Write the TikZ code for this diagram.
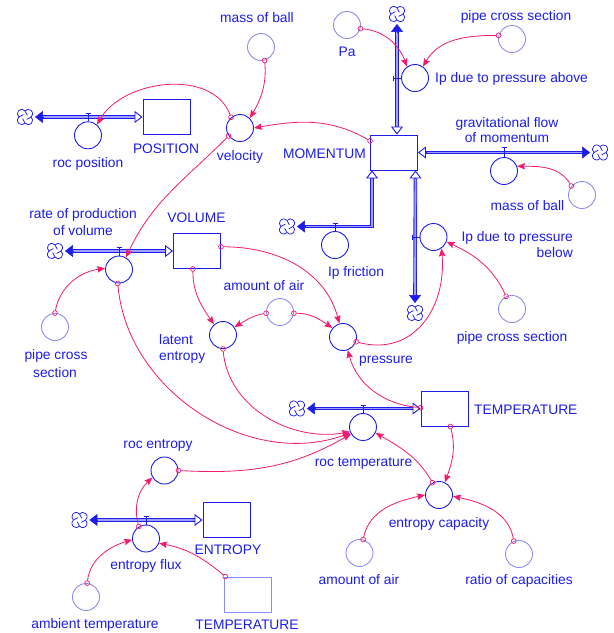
\documentclass[tikz,border=0pt]{standalone}
\usepackage{fontspec}
\setmainfont{Liberation Sans}
\usetikzlibrary{arrows.meta,calc}
\definecolor{vblue}{RGB}{28,28,235}
\definecolor{vlight}{RGB}{140,140,245}
\definecolor{vpink}{RGB}{245,25,110}
\definecolor{vpipe}{RGB}{160,160,250}
\newcommand\vcloud[2]{%
  \node[circle, minimum size=15.5pt, inner sep=0pt, draw=none] (#1) at #2 {};
  \draw[cloudline, shift={(#1.center)}] (0,6.06) arc[start angle=140,end angle=-50,radius=4.3]
     arc[start angle=50,end angle=-140,radius=4.3]
     arc[start angle=-40,end angle=-230,radius=4.3]
     arc[start angle=230,end angle=40,radius=4.3] -- cycle;
  \foreach \r in {0,90,180,270}{
    \draw[cloudline, shift={(#1.center)}, rotate=\r] (0,6.06) .. controls (0,3.8) and (2.6,3.4) .. (2.4,1.6);
  }%
}
\begin{document}
\begin{tikzpicture}[x=1pt,y=1pt,
  stockbox/.style={draw=vblue, line width=0.9pt, minimum width=47pt, minimum height=35pt, inner sep=0pt},
  shadowstock/.style={stockbox, draw=vlight},
  aux/.style={circle, draw=vblue, line width=0.9pt, minimum size=27pt, inner sep=0pt},
  shadowaux/.style={aux, draw=vlight},
  cloudline/.style={draw=vblue, line width=0.75pt, line join=round},
  lbl/.style={text=vblue, font=\fontsize{13.8}{16}\selectfont, inner sep=0pt, anchor=base},
  conn/.style={draw=vpink, line width=0.8pt, arrows={Circle[open,length=5.5pt,width=5.5pt,line width=0.7pt]-Stealth[length=8pt,width=6.5pt,inset=1.3pt]}, shorten <=-2.75pt},
  pipe/.style={draw=vblue, line width=0.9pt, double=vpipe, double distance=1.8pt},
  fhead/.style={draw=vblue, line width=0.5pt, arrows={-Triangle[length=8pt,width=12pt]}},
  ohead/.style={draw=vblue, line width=0.9pt, arrows={-Triangle[length=8pt,width=12pt,fill=white]}},
  tick/.style={draw=vblue, line width=0.8pt},
]
\useasboundingbox (0,0) rectangle (614,-633);

% stocks
\node[stockbox] (POS) at (166.5,-117) {};
\node[stockbox] (MOM) at (394,-152.5) {};
\node[stockbox] (VOL) at (197,-251) {};
\node[stockbox] (TEMP) at (444.5,-408.5) {};
\node[stockbox] (ENT) at (226.5,-520) {};
\node[shadowstock] (TEMPs) at (247.5,-594.5) {};

% auxiliaries and valves
\node[shadowaux] (mb1) at (261,-47) {};
\node[aux] (vel) at (240,-128) {};
\node[aux] (rocpos) at (88,-135.3) {};
\node[shadowaux] (Pa) at (347,-25) {};
\node[aux] (ipa) at (415,-78) {};
\node[shadowaux] (pcs1) at (512,-39) {};
\node[aux] (grav) at (504,-171) {};
\node[shadowaux] (mb2) at (582,-195) {};
\node[aux] (ipf) at (335,-245) {};
\node[aux] (ipb) at (433.5,-237) {};
\node[shadowaux] (pcs2) at (512,-309) {};
\node[aux] (rpv) at (119,-269.5) {};
\node[shadowaux] (pcs3) at (55,-327) {};
\node[aux] (lat) at (223,-335) {};
\node[shadowaux] (aa1) at (280,-312) {};
\node[aux] (pres) at (343,-337) {};
\node[aux] (roct) at (363,-427) {};
\node[aux] (ecap) at (439,-495) {};
\node[shadowaux] (aa2) at (359.5,-553) {};
\node[shadowaux] (ratio) at (519,-554) {};
\node[aux] (roce) at (164.5,-470.5) {};
\node[aux] (eflux) at (146,-538.5) {};
\node[shadowaux] (amb) at (86,-597) {};

% clouds
\vcloud{c1}{(25,-117)}
\vcloud{c2}{(397,-14)}
\vcloud{c3}{(600,-152.5)}
\vcloud{c4}{(287,-226.5)}
\vcloud{c5}{(415,-313)}
\vcloud{c6}{(55,-251)}
\vcloud{c7}{(297,-408.5)}
\vcloud{c8}{(79.5,-520)}

% labels
\node[lbl] (lmb1) at (257,-22) {mass of ball};
\node[lbl] (lvel) at (240,-160) {velocity};
\node[lbl] (lrocpos) at (88,-167) {roc position};
\node[lbl] (lPOS) at (166,-153) {POSITION};
\node[lbl, anchor=base east] (lMOM) at (366,-158) {MOMENTUM};
\node[lbl] (lPa) at (347,-56) {Pa};
\node[lbl] (lpcs1) at (516,-20) {pipe cross section};
\node[lbl, anchor=base west] (lipa) at (435,-82) {Ip due to pressure above};
\node[lbl] (lgrav1) at (507,-127) {gravitational flow};
\node[lbl] (lgrav2) at (507,-142.5) {of momentum};
\node[lbl] (lmb2) at (527.5,-210) {mass of ball};
\node[lbl] (lipf) at (356,-276.5) {Ip friction};
\node[lbl, anchor=base east] (lipb1) at (573,-241.5) {Ip due to pressure};
\node[lbl, anchor=base east] (lipb2) at (573,-257) {below};
\node[lbl] (lpcs2) at (512,-341) {pipe cross section};
\node[lbl] (lrpv1) at (83,-218) {rate of production};
\node[lbl] (lrpv2) at (83,-235) {of volume};
\node[lbl] (lVOL) at (196.5,-222) {VOLUME};
\node[lbl] (laa1) at (264,-290) {amount of air};
\node[lbl] (lpcs3a) at (56,-359.5) {pipe cross};
\node[lbl] (lpcs3b) at (55,-377) {section};
\node[lbl, anchor=base west] (llat1) at (159,-344) {latent};
\node[lbl, anchor=base west] (llat2) at (159,-360) {entropy};
\node[lbl] (lpres) at (386,-363) {pressure};
\node[lbl, anchor=base west] (lTEMP) at (474,-414) {TEMPERATURE};
\node[lbl] (lroct) at (363.5,-466) {roc temperature};
\node[lbl] (lecap) at (439,-527) {entropy capacity};
\node[lbl] (laa2) at (359,-584) {amount of air};
\node[lbl] (lratio) at (519,-584) {ratio of capacities};
\node[lbl] (lroce) at (158,-448) {roc entropy};
\node[lbl] (lENT) at (228,-554) {ENTROPY};
\node[lbl] (leflux) at (146,-569) {entropy flux};
\node[lbl] (lamb) at (95,-628.5) {ambient temperature};
\node[lbl] (lTEMPs) at (247,-629) {TEMPERATURE};

% flow pipes
% roc position
\draw[pipe] ($(c1.east)+(9,0)$) -- ($(POS.west)+(-7,0)$);
\draw[fhead] ($(c1.east)+(10,0)$) -- ($(c1.east)+(2,0)$);
\draw[ohead] ($(POS.west)+(-8,0)$) -- (POS.west);
\draw[tick] (rocpos.north) -- ++(0,7.5) ++(-2.5,0) -- ++(5,0);
% Ip due to pressure above
\draw[pipe] ($(c2.south)+(0,-9)$) -- ($(c2.south |- MOM.north)+(0,7)$);
\draw[fhead] ($(c2.south)+(0,-10)$) -- ($(c2.south)+(0,-2)$);
\draw[ohead] ($(c2.south |- MOM.north)+(0,8)$) -- (c2.south |- MOM.north);
\draw[tick] (ipa.west) -- ++(-7.5,0) ++(0,2.5) -- ++(0,-5);
% gravitational flow
\draw[pipe] ($(MOM.east)+(7,0)$) -- ($(c3.west)+(-9,0)$);
\draw[ohead] ($(MOM.east)+(8,0)$) -- (MOM.east);
\draw[fhead] ($(c3.west)+(-10,0)$) -- ($(c3.west)+(-2,0)$);
\draw[tick] (grav.north) -- ++(0,9.5) ++(-2.5,0) -- ++(5,0);
% Ip friction
\coordinate (mfl) at ($(MOM.south west)+(2,0)$);
\coordinate (mfr) at ($(MOM.south east)+(-2.5,0)$);
\draw[pipe] ($(mfl)+(0,-7)$) |- ($(c4.east)+(9,0)$);
\draw[ohead] ($(mfl)+(0,-8)$) -- (mfl);
\draw[fhead] ($(c4.east)+(10,0)$) -- ($(c4.east)+(2,0)$);
\draw[tick] (ipf.north) -- ++(0,7.5) ++(-2.5,0) -- ++(5,0);
% Ip due to pressure below
\draw[pipe] ($(mfr)+(0,-7)$) -- ($(c5.north)+(0,9)$);
\draw[ohead] ($(mfr)+(0,-8)$) -- (mfr);
\draw[fhead] ($(c5.north)+(0,10)$) -- ($(c5.north)+(0,2)$);
\draw[tick] (ipb.west) -- ++(-7.5,0) ++(0,2.5) -- ++(0,-5);
% rate of production of volume
\draw[pipe] ($(c6.east)+(9,0)$) -- ($(VOL.west)+(-7,0)$);
\draw[fhead] ($(c6.east)+(10,0)$) -- ($(c6.east)+(2,0)$);
\draw[ohead] ($(VOL.west)+(-8,0)$) -- (VOL.west);
\draw[tick] (rpv.north) -- ++(0,8) ++(-2.5,0) -- ++(5,0);
% roc temperature
\draw[pipe] ($(c7.east)+(9,0)$) -- ($(TEMP.west)+(-7,0)$);
\draw[fhead] ($(c7.east)+(10,0)$) -- ($(c7.east)+(2,0)$);
\draw[ohead] ($(TEMP.west)+(-8,0)$) -- (TEMP.west);
\draw[tick] (roct.north) -- ++(0,8) ++(-2.5,0) -- ++(5,0);
% entropy flux
\draw[pipe] ($(c8.east)+(9,0)$) -- ($(ENT.west)+(-7,0)$);
\draw[fhead] ($(c8.east)+(10,0)$) -- ($(c8.east)+(2,0)$);
\draw[ohead] ($(ENT.west)+(-8,0)$) -- (ENT.west);
\draw[tick] (eflux.north) -- ++(0,8.5) ++(-2.5,0) -- ++(5,0);

% connectors
\draw[conn] (mb1.-75) to[out=-85,in=60] (vel.45);
\draw[conn] (vel.130) to[out=110,in=60] (rocpos.50);
\draw[conn] (MOM.154) to[out=150,in=10] (vel.east);
\draw[conn] (vel.-145) to[out=-135,in=65] (rpv.60);
\draw[conn] (Pa.-15) to[out=-5,in=110] (ipa.125);
\draw[conn] (pcs1.165) to[out=180,in=60] (ipa.55);
\draw[conn] (mb2.140) to[out=120,in=0] (grav.20);
\draw[conn] (pcs2.115) to[out=115,in=-25] (ipb.-20);
\draw[conn] (pres.-20) to[out=-15,in=-85,looseness=1.2] (ipb.-55);
\draw[conn] (VOL.10) to[out=0,in=105] (pres.105);
\draw[conn] (VOL.-103) to[out=-90,in=125] (lat.130);
\draw[conn] (aa1.185) to[out=190,in=30] (lat.35);
\draw[conn] (aa1.-5) to[out=0,in=145] (pres.140);
\draw[conn] (pcs3.90) to[out=80,in=-172] (rpv.175);
\draw[conn] (rpv.-95) to[out=-85,in=-160] (roct.-155);
\draw[conn] (lat.-90) to[out=-85,in=-170] (roct.-160);
\draw[conn] (roce.0) to[out=-3,in=-150] (roct.-150);
\draw[conn] (TEMP.178) to[out=175,in=-75] (pres.-70);
\draw[conn] (TEMP.-72) to[out=-75,in=70] (ecap.65);
\draw[conn] (ecap.118) to[out=120,in=-30] (roct.-25);
\draw[conn] (aa2.75) to[out=78,in=-168] (ecap.180);
\draw[conn] (ratio.112) to[out=100,in=-12] (ecap.-5);
\draw[conn] (eflux.121) to[out=105,in=-137] (roce.-150);
\draw[conn] (amb.85) to[out=83,in=-163] (eflux.-175);
\draw[conn] (TEMPs.141) to[out=140,in=-11] (eflux.-20);
\end{tikzpicture}
\end{document}
